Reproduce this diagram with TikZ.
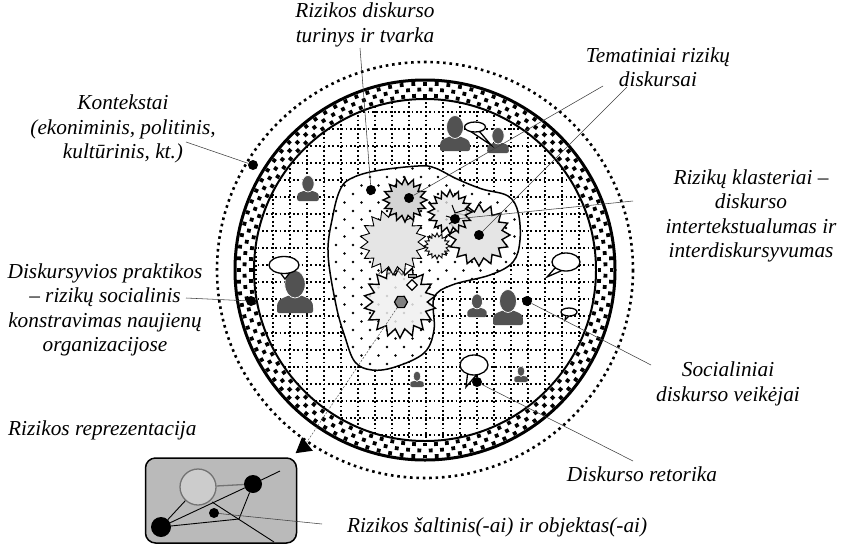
\documentclass[tikz,border=0pt]{standalone}
\usepackage{fontspec}
\setmainfont{Liberation Serif}
\usetikzlibrary{shapes.geometric}

\tikzset{
    lbl/.style={font=\fontsize{21.3}{24.5}\selectfont\itshape, align=center, inner sep=0pt},
    dotnode/.style={circle, fill=black, inner sep=0pt, minimum size=#1},
    dotnode/.default=10pt,
    leader/.style={line width=0.55pt, black!75},
    griddot/.style={line width=1.5pt, dash pattern=on 1.7pt off 2.7pt},
    rimdot/.style={line width=2.6pt, dash pattern=on 2.6pt off 3.8pt},
    burst/.style={star, draw=black, line width=1.4pt, inner sep=0pt, star point ratio=1.32},
    talk/.style={ellipse, draw=black, fill=white, line width=1.3pt, inner sep=0pt},
    boxlink/.style={line width=0.9pt, black}
}

% Person figure: x, y of the foot, scale
\newcommand{\person}[3]{
    \begin{scope}[shift={(#1,#2)}, scale=#3]
        \fill[black!68, rounded corners=2pt] (-15,0) -- (-15,-6) .. controls (-14,-12) and (-8,-13) .. (-5,-15)
            -- (5,-15) .. controls (8,-13) and (14,-12) .. (15,-6) -- (15,0) -- cycle;
        \fill[black!68, draw=white, line width=0.7pt] (0,-24) ellipse [x radius=8.5, y radius=11.5];
    \end{scope}
}

\begin{document}
\begin{tikzpicture}[x=1pt, y=-1pt]
\useasboundingbox (0,0) rectangle (842,544);

% Parameters
\def\cx{425}
\def\cy{270}
\def\rimR{208}
\def\bandOut{190}
\def\bandIn{171}
\def\blobpath{plot[smooth cycle, tension=0.6] coordinates {(340,190) (350,179) (375,171) (418,166) (435,168)
    (457,179) (482,189) (508,196) (518,212) (520,240) (513,262) (490,275) (452,285) (434,298)
    (434,330) (424,353) (395,367) (372,370) (355,362) (345,337) (336,305) (328,253) (333,215)}}

\coordinate (center) at (\cx,\cy);

% Outer dotted circle
\draw[rimdot] (center) circle[radius=\rimR];

% Grid inside the band
\begin{scope}
    \clip (center) circle[radius=\bandIn];
    \foreach \i in {-12,...,12} {
        \pgfmathsetmacro\gx{426+17*\i}
        \pgfmathsetmacro\gy{282+17*\i}
        \draw[griddot] (\gx,80) -- (\gx,460);
        \draw[griddot] (240,\gy) -- (610,\gy);
    }
\end{scope}

% Checker band
\foreach \k in {0,...,99} {
    \pgfmathsetmacro\ang{\k*3.6}
    \fill[shift={(center)}, rotate=\ang] (172.5,-1.9) rectangle ++(3.8,3.8);
    \fill[shift={(center)}, rotate=\ang] (184.5,-1.9) rectangle ++(3.8,3.8);
    \fill[shift={(center)}, rotate=\ang+1.8] (178.6,-1.9) rectangle ++(3.8,3.8);
}
\draw[line width=3pt] (center) circle[radius=\bandOut];
\draw[line width=2pt] (center) circle[radius=\bandIn];

% Blob with stipple
\fill[white] \blobpath;
\begin{scope}
    \clip \blobpath;
    \foreach \row in {0,...,26} {
        \foreach \i in {0,...,13} {
            \pgfmathsetmacro\dx{319+17*\i+8.5*mod(\row,2)}
            \pgfmathsetmacro\dy{160+8.5*\row}
            \fill (\dx,\dy) circle[radius=1.4];
        }
    }
\end{scope}
\draw[line width=1.5pt] \blobpath;

% Persons
\person{455}{151}{1}
\person{498}{153}{0.72}
\person{308}{201}{0.72}
\person{295}{313}{1.2}
\person{477}{317}{0.65}
\person{508}{325}{1}
\person{417}{387}{0.45}
\person{521}{382}{0.45}

% Speech bubbles
\draw[line width=1.3pt, fill=white] (479,131) -- (491,145) -- (470,131) -- cycle;
\node[talk, minimum width=21pt, minimum height=10pt] (talkA) at (475,127) {};
\draw[line width=1.3pt, fill=white] (279,271) -- (285,279) -- (291,271) -- cycle;
\node[talk, minimum width=30pt, minimum height=17pt] (talkB) at (284,265) {};
\draw[line width=1.3pt, fill=white] (555,268) -- (547,277) -- (563,270) -- cycle;
\node[talk, minimum width=28pt, minimum height=18pt] (talkC) at (566,262) {};
\draw[line width=1.1pt, fill=white] (566,314) -- (565,320) -- (571,314) -- cycle;
\node[talk, minimum width=16pt, minimum height=8pt] (talkD) at (569,312) {};
\draw[line width=1.3pt, fill=white] (468,370) -- (466,387) -- (479,372) -- cycle;
\node[talk, minimum width=28pt, minimum height=20pt] (talkE) at (474,365) {};

% Risk clusters
\node[burst, star points=18, fill=black!6, minimum size=72pt, fill opacity=0.85] (burstF) at (400,302) {};
\draw[line width=1pt, black!55] (378,275) -- (384,268) -- (389,274) -- (395,267) -- (402,275) -- (406,268);
\node[burst, star points=18, line width=0.9pt, fill=black!10, minimum size=66pt] (burstD) at (393,242) {};
\node[burst, star points=16, fill=black!10, minimum size=62pt] (burstC) at (479,235) {};
\node[burst, star points=16, fill=black!17, minimum size=44pt, star point ratio=1.4] (burstA) at (405,200) {};
\node[burst, star points=16, fill=black!10, minimum size=44pt, star point ratio=1.4, fill opacity=0.8] (burstB) at (450,212) {};
\node[burst, star points=16, line width=0.9pt, fill=black!7, minimum size=26pt, star point ratio=1.4] (burstE) at (437,246) {};
\draw[line width=1pt] (452,205) -- (455,213) -- (465,210);
\draw[line width=1pt] (446,216) -- (456,219) -- (449,224);

% Parts of the lower cluster
\node[regular polygon, regular polygon sides=6, draw=black, fill=black!50, line width=1.2pt, inner sep=0pt, minimum size=13pt] (hexRisk) at (401,302) {};
\node[diamond, draw=black, fill=white, line width=1.2pt, inner sep=0pt, minimum size=11pt] (diaRisk) at (412,285) {};
\node[rectangle, draw=black, fill=black!40, line width=0.9pt, inner sep=0pt, minimum width=8pt, minimum height=3.5pt] (rectRisk) at (412,276) {};

% Marker dots
\node[dotnode] (dotContext) at (253,165) {};
\node[dotnode] (dotPractice) at (251,301) {};
\node[dotnode] (dotOrder) at (371,190) {};
\node[dotnode] (dotThemeA) at (409,198) {};
\node[dotnode] (dotCluster) at (455,219) {};
\node[dotnode] (dotThemeB) at (479,235) {};
\node[dotnode] (dotActors) at (527,301) {};
\node[dotnode] (dotRhetoric) at (477,382) {};

% Labels
\node[lbl] (lblOrder) at (365,25) {Rizikos diskurso\\turinys ir tvarka};
\node[lbl] (lblTheme) at (658,67) {Tematiniai rizikų\\diskursai};
\node[lbl] (lblContext) at (123,129) {Kontekstai\\(ekoniminis, politinis,\\kultūrinis, kt.)};
\node[lbl] (lblCluster) at (751,216) {Rizikų klasteriai –\\diskurso\\intertekstualumas ir\\interdiskursyvumas};
\node[lbl] (lblPractice) at (105,310) {Diskursyvios praktikos\\– rizikų socialinis\\konstravimas naujienų\\organizacijose};
\node[lbl] (lblActors) at (728,384) {Socialiniai\\diskurso veikėjai};
\node[lbl, anchor=west] (lblRepr) at (8,430) {Rizikos reprezentacija};
\node[lbl] (lblRhetoric) at (642,474) {Diskurso retorika};
\node[lbl, anchor=west] (lblSource) at (347,527) {Rizikos šaltinis(-ai) ir objektas(-ai)};

% Free ends of the leaders
\coordinate (endContext) at (186,142);
\coordinate (endPractice) at (186,298);
\coordinate (endOrder) at (360,48);
\coordinate (endThemeA) at (603,86);
\coordinate (endThemeB) at (627,87);
\coordinate (endCluster) at (633,201);
\coordinate (endActors) at (651,365);
\coordinate (endRhetoric) at (633,461);
\coordinate (endSource) at (322,524);

% Leaders
\draw[leader] (endContext) -- (dotContext);
\draw[leader] (endPractice) -- (dotPractice);
\draw[leader] (endOrder) -- (dotOrder);
\draw[leader] (endThemeA) -- (dotThemeA);
\draw[leader] (endThemeB) -- (dotThemeB);
\draw[leader] (endCluster) -- (dotCluster);
\draw[leader] (dotActors) -- (endActors);
\draw[leader] (dotRhetoric) -- (endRhetoric);

% Representation arrow
\node[regular polygon, regular polygon sides=3, fill=black, inner sep=0pt, minimum size=20pt, rotate=128] (tipRepr) at (303.5,447) {};
\draw[line width=0.5pt, black!70, dash pattern=on 2pt off 1.5pt] (hexRisk) -- (tipRepr);

% Representation box
\node[rectangle, draw=black, fill=black!27, line width=1.5pt, rounded corners=10pt, minimum width=151pt, minimum height=85pt] (boxRepr) at (221,500.5) {};
\node[circle, draw=black!55, fill=black!20, line width=1.3pt, inner sep=0pt, minimum size=36pt] (srcCircle) at (198,487) {};
\node[dotnode=18pt] (srcA) at (253,484) {};
\node[dotnode=20pt] (srcB) at (161,527) {};
\node[dotnode=10pt] (srcC) at (214,513) {};
\coordinate (joint) at (239,519);
\coordinate (endOutA) at (280,471);
\coordinate (endOutB) at (274,542);
\coordinate (startOutB) at (212,502);
\draw[line width=1.3pt, black!55] (srcCircle) -- (srcA);
\draw[boxlink] (srcA) -- (endOutA);
\draw[boxlink] (srcB) -- (srcA);
\draw[boxlink] (srcB) -- (srcCircle);
\draw[boxlink] (srcB) -- (joint);
\draw[boxlink] (srcA) -- (joint);
\draw[boxlink] (startOutB) -- (endOutB);
\draw[leader] (srcC) -- (endSource);

\end{tikzpicture}
\end{document}
